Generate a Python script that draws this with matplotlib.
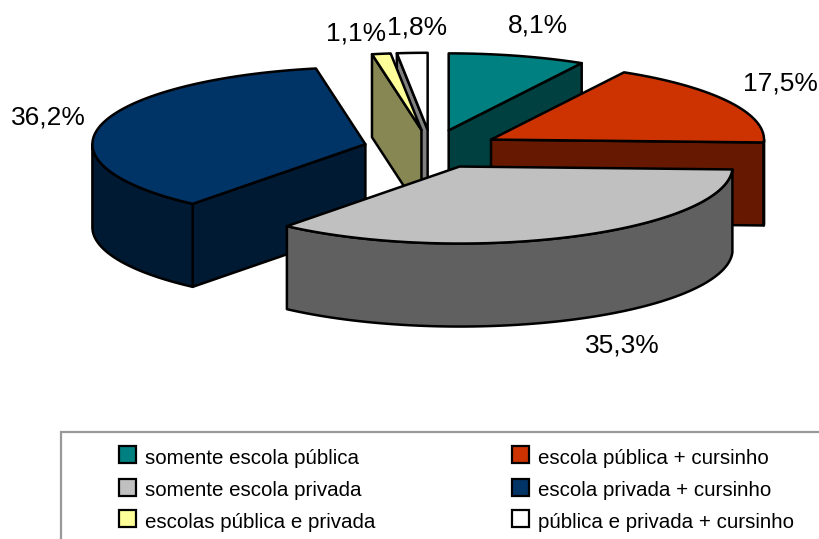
import numpy as np
import matplotlib
matplotlib.use('Agg')
import matplotlib.pyplot as plt
from matplotlib.patches import Polygon, Rectangle

plt.rcParams['font.family'] = ['Liberation Sans', 'DejaVu Sans']

categories = ['somente escola pública', 'escola pública + cursinho', 'somente escola privada',
              'escola privada + cursinho', 'escolas pública e privada', 'pública e privada + cursinho']
values = [8.1, 17.5, 35.3, 36.2, 1.1, 1.8]
# order of the slices clockwise from the top
slice_order = [0, 1, 2, 3, 4, 5]
value_labels = ['8,1%', '17,5%', '35,3%', '36,2%', '1,1%', '1,8%']
top_colors = ['#008080', '#CC3300', '#C0C0C0', '#003366', '#FFFF99', '#FFFFFF']
side_colors = ['#004040', '#661900', '#606060', '#001A33', '#878754', '#808080']
label_pos = [(538, 25), (780, 83), (622, 346), (48, 117), (356, 33), (417, 28)]

# pie geometry in pixels
cx, cy = 431.5, 149
a, b = 273, 77
depth = 83
explode = 0.25
# back to front
draw_order = [0, 1, 5, 4, 3, 2]


def rim(t, ox, oy):
    return ox + a * np.sin(t), oy - b * np.cos(t)


fig = plt.figure(figsize=(8.2, 5.39), dpi=100)
ax = fig.add_axes([0, 0, 1, 1])
ax.set_xlim(0, 820)
ax.set_ylim(539, 0)
ax.axis('off')

edges = np.cumsum([0] + values) / sum(values) * 2 * np.pi


def draw_slice(i):
    t0, t1 = edges[i], edges[i + 1]
    mid = (t0 + t1) / 2
    ox = cx + explode * a * np.sin(mid)
    oy = cy - explode * b * np.cos(mid)
    side = dict(facecolor=side_colors[i], edgecolor='black', lw=1.8, joinstyle='round')

    # radial walls that face the viewer
    for t, visible in ((t0, np.sin(t0) < 0), (t1, np.sin(t1) > 0)):
        if visible:
            x, y = rim(t, ox, oy)
            ax.add_patch(Polygon([(ox, oy), (x, y), (x, y + depth), (ox, oy + depth)], **side))

    # outer wall, front half only
    lo, hi = max(t0, np.pi / 2), min(t1, 3 * np.pi / 2)
    if hi > lo:
        ts = np.linspace(lo, hi, 80)
        x, y = rim(ts, ox, oy)
        pts = list(zip(x, y)) + list(zip(x[::-1], y[::-1] + depth))
        ax.add_patch(Polygon(pts, **side))

    # top face
    ts = np.linspace(t0, t1, 120)
    x, y = rim(ts, ox, oy)
    ax.add_patch(Polygon([(ox, oy)] + list(zip(x, y)), facecolor=top_colors[i],
                         edgecolor='black', lw=1.8, joinstyle='round'))


for i in draw_order:
    draw_slice(i)

for lab, (x, y) in zip(value_labels, label_pos):
    ax.text(x, y, lab, fontsize=19, ha='center', va='center', color='black')

# legend box runs off the right and bottom of the picture
ax.add_patch(Rectangle((61, 432), 800, 200, facecolor='white', edgecolor='#999999', lw=1.6))

legend_x = [(119, 145), (512, 538)]
legend_y = [455, 488, 519]
for n, i in enumerate(slice_order):
    col, row = n % 2, n // 2
    sx, tx = legend_x[col]
    ax.add_patch(Rectangle((sx, legend_y[row] - 9), 17, 17, facecolor=top_colors[i],
                           edgecolor='black', lw=1.6))
    ax.text(tx, legend_y[row] + 3, categories[i], fontsize=14.8, ha='left', va='center', color='black')

fig.savefig('out.png', dpi=100)
